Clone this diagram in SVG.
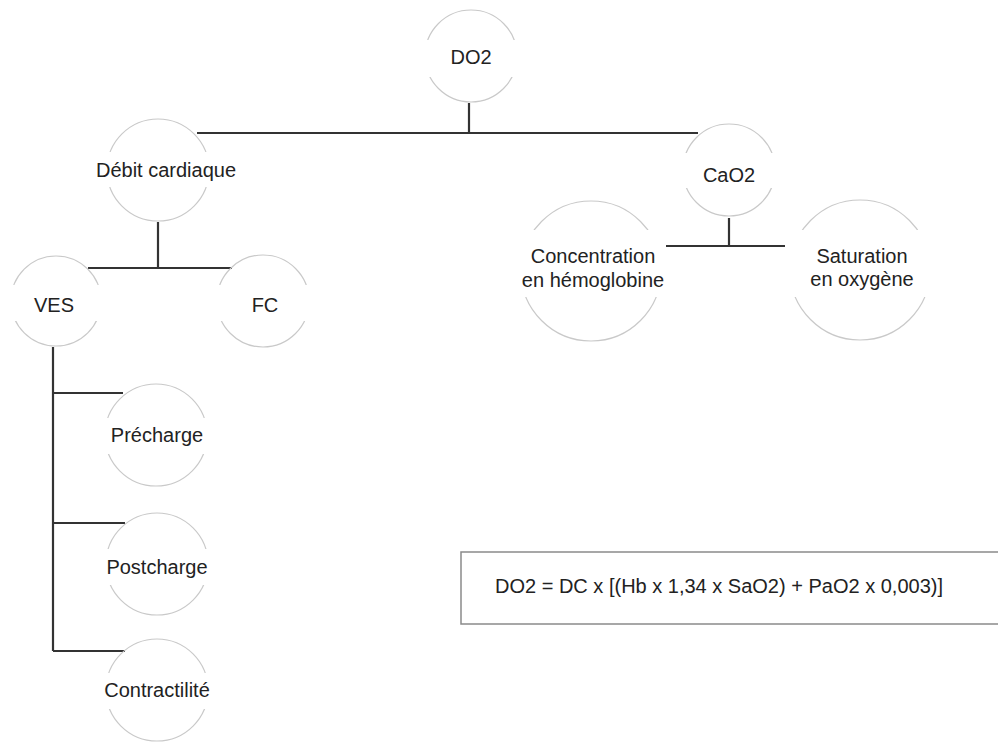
<svg xmlns="http://www.w3.org/2000/svg" width="998" height="742" viewBox="0 0 998 742">
<style>
.c{fill:none;stroke:#c9c9c9;stroke-width:1.2}
.m{fill:#fff}
.t{font-family:"Liberation Sans",Arial,sans-serif;font-size:20px;fill:#222;text-anchor:middle}
.l{fill:none;stroke:#333;stroke-width:2.2}
</style>
<rect width="998" height="742" fill="#fff"/>
<g id="connectors">
<path class="l" d="M469 103V133M197 133H698"/>
<path class="l" d="M158 222V268M88 268H232"/>
<path class="l" d="M729 218V246M659 246H793"/>
<path class="l" d="M53 347V651M53 393H123M53 523H125M53 651H125"/>
</g>
<g id="DO2">
<circle class="c" cx="471" cy="56" r="46"/>
<rect class="m" x="420" y="40" width="102" height="37"/>
<text class="t" x="471" y="64">DO2</text>
</g>
<g id="debit">
<circle class="c" cx="158" cy="170" r="51"/>
<rect class="m" x="92" y="152" width="150" height="35"/>
<text class="t" x="166" y="177">Débit cardiaque</text>
</g>
<g id="CaO2">
<circle class="c" cx="729" cy="170" r="46"/>
<rect class="m" x="678" y="153" width="102" height="35"/>
<text class="t" x="729" y="182">CaO2</text>
</g>
<g id="VES">
<circle class="c" cx="56" cy="301" r="45"/>
<rect class="m" x="6" y="285" width="100" height="36"/>
<text class="t" x="54" y="312">VES</text>
</g>
<g id="FC">
<circle class="c" cx="263" cy="301" r="46"/>
<rect class="m" x="212" y="285" width="102" height="36"/>
<text class="t" x="265" y="312">FC</text>
</g>
<g id="concentration">
<circle class="c" cx="591" cy="271" r="70"/>
<rect class="m" x="516" y="230" width="150" height="67"/>
<text class="t" x="593" y="263">Concentration</text>
<text class="t" x="593" y="287">en hémoglobine</text>
</g>
<g id="saturation">
<circle class="c" cx="860" cy="270" r="70"/>
<rect class="m" x="785" y="230" width="150" height="67"/>
<text class="t" x="862" y="263">Saturation</text>
<text class="t" x="862" y="286">en oxygène</text>
</g>
<g id="precharge">
<circle class="c" cx="156" cy="435" r="51"/>
<rect class="m" x="100" y="418" width="112" height="36"/>
<text class="t" x="157" y="442">Précharge</text>
</g>
<g id="postcharge">
<circle class="c" cx="157" cy="564" r="51"/>
<rect class="m" x="100" y="549" width="114" height="36"/>
<text class="t" x="157" y="574">Postcharge</text>
</g>
<g id="contractilite">
<circle class="c" cx="157" cy="690" r="51"/>
<rect class="m" x="100" y="673" width="116" height="36"/>
<text class="t" x="157" y="697">Contractilité</text>
</g>
<g id="formula">
<rect x="461" y="552" width="560" height="72" fill="#fff" stroke="#8a8a8a" stroke-width="1.5"/>
<text class="t" x="495" y="593" style="text-anchor:start">DO2 = DC x [(Hb x 1,34 x SaO2) + PaO2 x 0,003)]</text>
</g>
</svg>
